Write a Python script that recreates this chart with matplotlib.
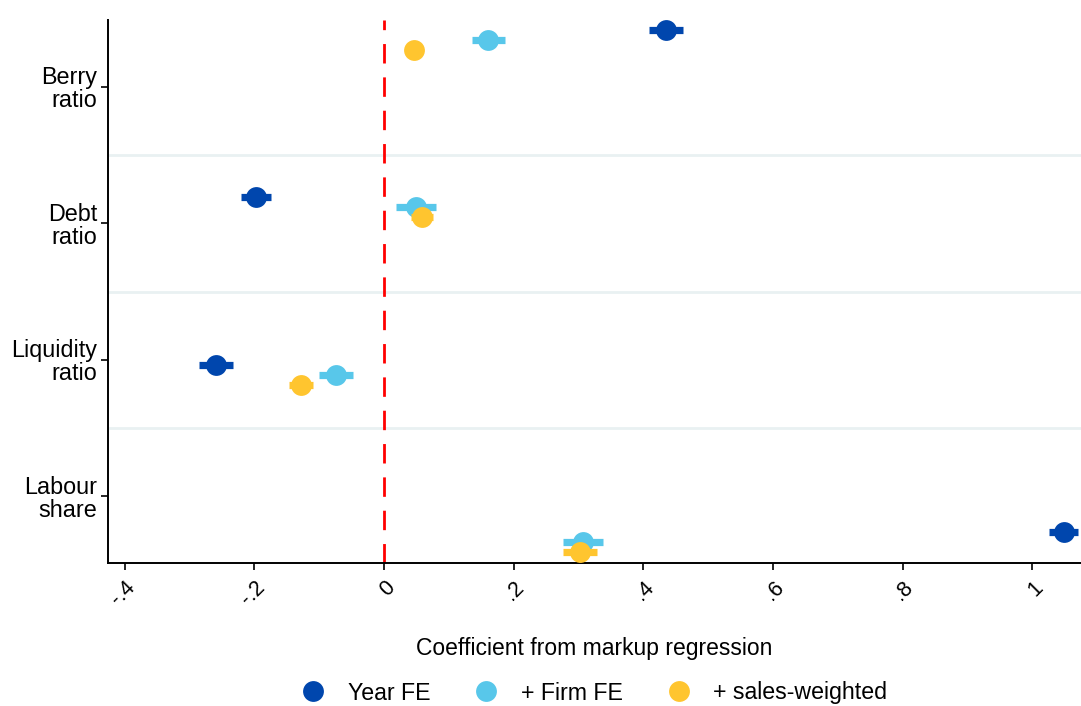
import numpy as np
import matplotlib
matplotlib.use("Agg")
import matplotlib.pyplot as plt
from matplotlib.lines import Line2D

plt.rcParams['font.family'] = ['Liberation Sans', 'DejaVu Sans']

categories = ["Berry\nratio", "Debt\nratio", "Liquidity\nratio", "Labour\nshare"]

# point estimates and CI half-widths per specification
year_fe = [0.435, -0.197, -0.259, 1.048]
year_fe_ci = [0.026, 0.023, 0.026, 0.022]
firm_fe = [0.161, 0.049, -0.074, 0.307]
firm_fe_ci = [0.025, 0.031, 0.026, 0.031]
sales_w = [0.047, 0.059, -0.128, 0.302]
sales_w_ci = [0.012, 0.017, 0.018, 0.026]

series_names = ["Year FE", "+ Firm FE", "+ sales-weighted"]
colors = ["#0046AD", "#58C7EA", "#FFC52F"]
xticks = [-0.4, -0.2, 0, 0.2, 0.4, 0.6, 0.8, 1.0]
xticklabels = ["-.4", "-.2", "0", ".2", ".4", ".6", ".8", "1"]

fig = plt.figure(figsize=(10.81, 7.06), dpi=100)
ax = fig.add_axes([108 / 1081, 1 - 563 / 706, 1 - 108 / 1081, (563 - 20) / 706])

ncat = len(categories)
ticks_y = np.arange(1, ncat + 1)
# group centres drift slightly from the category ticks, series stacked within a group
centres = 0.656 + 1.227 * np.arange(ncat)
step = 0.0735

all_vals = [year_fe, firm_fe, sales_w]
all_ci = [year_fe_ci, firm_fe_ci, sales_w_ci]
for k, (vals, ci, col) in enumerate(zip(all_vals, all_ci, colors)):
    yy = centres + (k - 1) * step
    vals = np.array(vals)
    ci = np.array(ci)
    ax.hlines(yy, vals - ci, vals + ci, color=col, lw=5.2, capstyle='butt', zorder=3 + k)
    ax.plot(vals, yy, 'o', color=col, ms=15, mec='none', zorder=3 + k)

# separators between groups
for s in ticks_y[:-1] + 0.5:
    ax.axhline(s, color="#E9F1F2", lw=2, zorder=1)

ax.axvline(0, color="#FF0000", lw=2, ls=(0, (7, 5)), zorder=2)

ax.set_xlim(-0.4256, 1.0748)
ax.set_ylim(4.49, 0.51)
ax.set_yticks(ticks_y)
ax.set_yticklabels(categories, fontsize=16.8, linespacing=1.0)
ax.set_xticks(xticks)
ax.set_xticklabels(xticklabels, fontsize=15.5, rotation=45, ha='right', va='top',
                   rotation_mode='anchor')

for side in ['top', 'right']:
    ax.spines[side].set_visible(False)
for side in ['left', 'bottom']:
    ax.spines[side].set_linewidth(1.4)
ax.tick_params(axis='both', length=5, width=1.2)
ax.tick_params(axis='x', pad=5)
ax.tick_params(axis='y', pad=3)

ax.set_xlabel("Coefficient from markup regression", fontsize=16.5)
ax.xaxis.set_label_coords(0.5, -(648 - 563) / 543)
ax.xaxis.label.set_va('center')

handles = [Line2D([], [], ls='none', marker='o', ms=15, color=c, mec='none') for c in colors]
fig.legend(handles, series_names, loc='center', ncol=3, frameon=False,
           bbox_to_anchor=(594.5 / 1081, 1 - 693 / 706), fontsize=16.7,
           handlelength=1.0, handletextpad=1.0, columnspacing=1.9)

fig.savefig("out.png", dpi=100)
